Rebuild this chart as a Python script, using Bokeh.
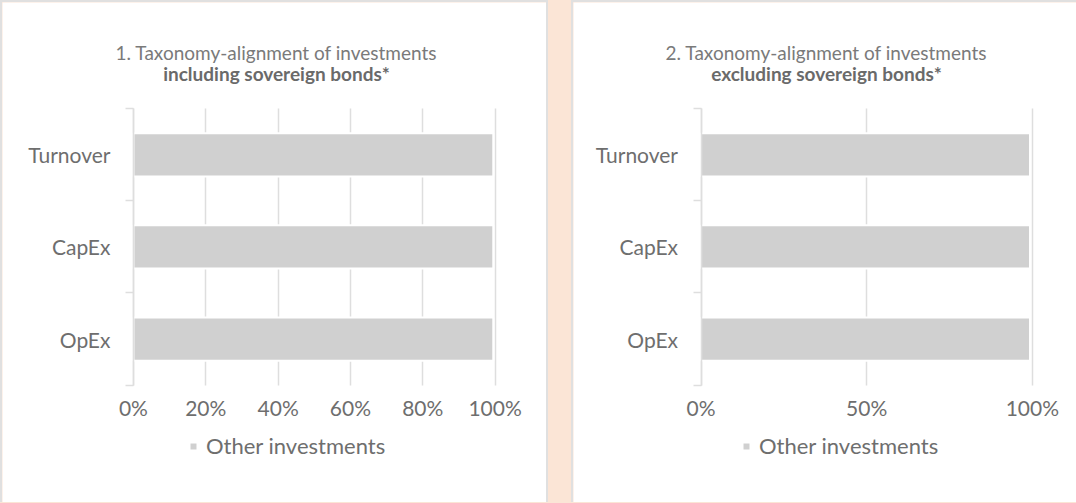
from bokeh.plotting import figure
from bokeh.layouts import row
from bokeh.models import (Range1d, FixedTicker, NumeralTickFormatter, Label,
                          Legend, LegendItem, ColumnDataSource)
from bokeh.embed import file_html
from bokeh.resources import INLINE

# ---- data ----
categories = ["OpEx", "CapEx", "Turnover"]
other_incl = [99.5, 99.5, 99.5]      # % other investments, incl. sovereign bonds
other_excl = [99.3, 99.3, 99.3]      # % other investments, excl. sovereign bonds
ticks_incl = [0, 20, 40, 60, 80, 100]
ticks_excl = [0, 50, 100]
title1_lines = ["1. Taxonomy-alignment of investments", "including sovereign bonds*"]
title2_lines = ["2. Taxonomy-alignment of investments", "excluding sovereign bonds*"]
series_name = "Other investments"

FONT = "Lato"
TXT = "#6e6e6e"
GRID = "#dedede"
BAR = "#d0d0d0"
PEACH = "#FBE5D6"
BORDER = "2px solid #e0e0e0"

# layout constants (pixels inside each canvas)
H = 502                     # element height
CH = H - 2                  # canvas height (top border 2px)
AX_TOP, AX_BOT = 106, 381   # canvas y of category band edges (top / bottom)


def make_panel(values, ticks, lines, width, cw, x0px, x1px, title_x, legend_x, css):
    n = len(categories)
    ky = n / (AX_BOT - AX_TOP)
    kx = 1.0 / (x1px - x0px)
    p = figure(width=width, height=H, output_backend="svg", toolbar_location=None,
               title_location=None,
               x_range=Range1d(-x0px * kx, 1 + (cw - x1px) * kx),
               y_range=Range1d(-(CH - AX_BOT) * ky, n + AX_TOP * ky),
               min_border_left=0, min_border_right=0,
               min_border_top=0, min_border_bottom=0,
               background_fill_color="white", border_fill_color="white",
               outline_line_color=None, styles=css)
    src = ColumnDataSource(dict(y=[i + 0.5 for i in range(n)],
                                v=[v / 100 for v in values]))
    r = p.hbar(y="y", left=0, right="v", height=0.47, source=src,
               fill_color=BAR, line_color="white", line_width=2)

    xa = p.xaxis[0]
    xa.fixed_location = 0
    xa.ticker = FixedTicker(ticks=[t / 100 for t in ticks])
    xa.formatter = NumeralTickFormatter(format="0%")
    xa.axis_line_color = None
    xa.major_tick_line_color = None
    xa.minor_tick_line_color = None
    xa.major_label_standoff = 4
    xa.major_label_text_font = FONT
    xa.major_label_text_font_size = "21px"
    xa.major_label_text_color = TXT

    ya = p.yaxis[0]
    ya.fixed_location = 0
    ya.bounds = (0, n)
    ya.ticker = FixedTicker(ticks=[i + 0.5 for i in range(n)],
                            minor_ticks=list(range(n + 1)))
    ya.major_label_overrides = {i + 0.5: c for i, c in enumerate(categories)}
    ya.axis_line_color = GRID
    ya.axis_line_width = 1.5
    ya.major_tick_line_color = None
    ya.minor_tick_line_color = GRID
    ya.minor_tick_line_width = 1.5
    ya.minor_tick_out = 8
    ya.minor_tick_in = 0
    ya.major_label_standoff = 15
    ya.major_label_text_font = FONT
    ya.major_label_text_font_size = "21px"
    ya.major_label_text_color = TXT

    p.xgrid.ticker = FixedTicker(ticks=[t / 100 for t in ticks])
    p.xgrid.cross_bounds = (0, n)
    p.xgrid.grid_line_color = GRID
    p.xgrid.grid_line_width = 1.5
    p.ygrid.grid_line_color = None

    # two-line title (screen units measured from the frame's bottom-left)
    p.add_layout(Label(x=title_x, y=CH - 48, x_units="screen", y_units="screen",
                       text=lines[0], text_align="center", text_baseline="middle",
                       text_font=FONT, text_font_size="19px", text_color="#7a7a7a"))
    p.add_layout(Label(x=title_x, y=CH - 69, x_units="screen", y_units="screen",
                       text=lines[1], text_align="center", text_baseline="middle",
                       text_font=FONT, text_font_size="19px", text_font_style="bold",
                       text_color="#6a6a6a"))

    legend = Legend(items=[LegendItem(label=series_name, renderers=[r])],
                    location=(legend_x, CH - 455), orientation="horizontal",
                    border_line_color=None, background_fill_alpha=0,
                    glyph_width=10, glyph_height=10, label_standoff=8,
                    padding=0, margin=0, spacing=0, label_height=20,
                    label_text_font=FONT, label_text_font_size="22px",
                    label_text_color=TXT)
    p.add_layout(legend)
    return p


p1 = make_panel(other_incl, ticks_incl, title1_lines, 548, 544, 130, 489, 274, 186,
                {"border": BORDER, "border-bottom": "none"})
p2 = make_panel(other_excl, ticks_excl, title2_lines, 505, 503, 127, 457, 253, 168,
                {"border-left": BORDER, "border-top": BORDER})

p = row(p1, p2, spacing=23)
html = file_html(p, INLINE)
css = "<style>html, body { background: %s !important; }</style></head>" % PEACH
html = html.replace("</head>", css, 1)
open("out.html", "w").write(html)
